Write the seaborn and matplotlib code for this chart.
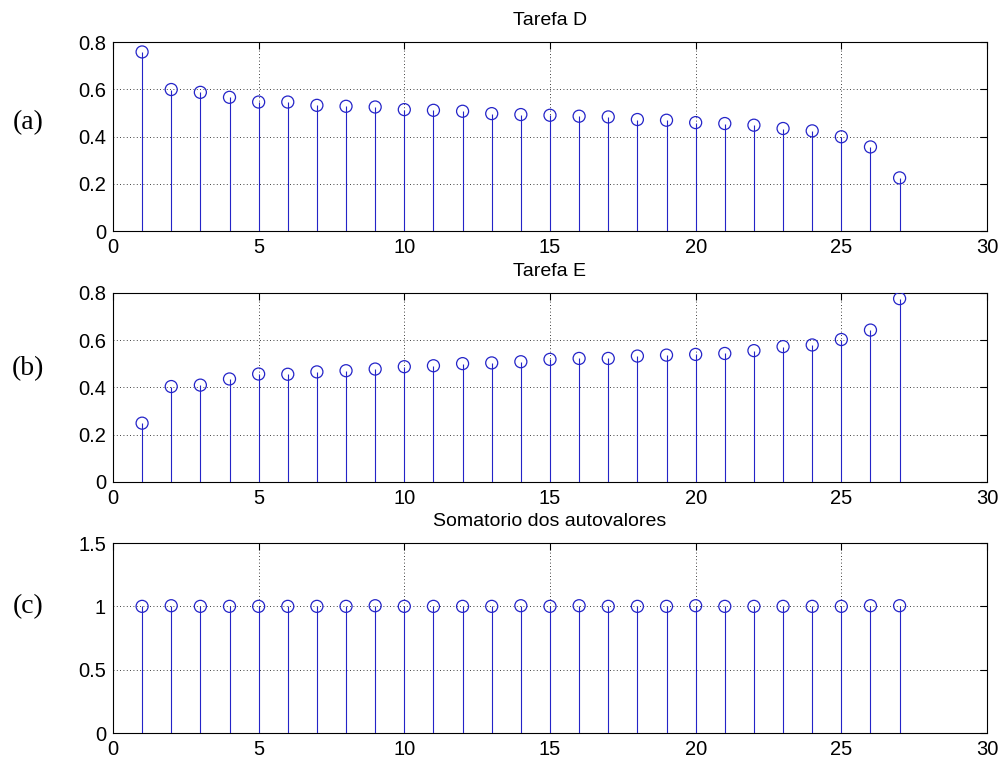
import numpy as np
import pandas as pd
import seaborn as sns
import matplotlib.pyplot as plt

idx = list(range(1, 28))

tarefa_d = [0.758, 0.599, 0.587, 0.566, 0.546, 0.546, 0.532, 0.528, 0.525,
            0.514, 0.511, 0.507, 0.497, 0.493, 0.490, 0.486, 0.483, 0.472,
            0.469, 0.459, 0.455, 0.448, 0.434, 0.424, 0.399, 0.356, 0.225]

tarefa_e = [0.249, 0.404, 0.410, 0.436, 0.457, 0.456, 0.466, 0.471, 0.478,
            0.488, 0.492, 0.501, 0.504, 0.509, 0.519, 0.523, 0.523, 0.533,
            0.537, 0.540, 0.544, 0.556, 0.573, 0.580, 0.603, 0.643, 0.776]

soma = [1.000, 1.005, 1.000, 1.000, 1.000, 1.000, 1.000, 1.000, 1.005,
        1.000, 1.000, 1.000, 1.000, 1.005, 1.000, 1.005, 1.000, 1.000,
        1.000, 1.005, 1.000, 1.000, 1.000, 1.000, 1.000, 1.005, 1.005]

titles = ['Tarefa D', 'Tarefa E', 'Somatorio dos autovalores']
panel_labels = ['(a)', '(b)', '(c)']
ylims = [(0, 0.8), (0, 0.8), (0, 1.5)]
yticks = [[0, 0.2, 0.4, 0.6, 0.8], [0, 0.2, 0.4, 0.6, 0.8], [0, 0.5, 1, 1.5]]
yticklabels = [['0', '0.2', '0.4', '0.6', '0.8'], ['0', '0.2', '0.4', '0.6', '0.8'],
               ['0', '0.5', '1', '1.5']]
xticks = [0, 5, 10, 15, 20, 25, 30]

sns.set_style('white')
plt.rcParams['font.family'] = ['Liberation Sans Narrow', 'Liberation Sans', 'DejaVu Sans']
plt.rcParams['text.color'] = 'black'

fig = plt.figure(figsize=(10.05, 7.6), dpi=100)
positions = [[0.1124, 0.696, 0.8697, 0.2487],
             [0.1124, 0.3658, 0.8697, 0.2487],
             [0.1124, 0.0355, 0.8697, 0.25]]
series = [tarefa_d, tarefa_e, soma]
label_y = [123, 369, 607]

for k in range(3):
    ax = fig.add_axes(positions[k])
    df = pd.DataFrame({'x': idx, 'y': series[k]})
    ax.vlines(df['x'], 0, df['y'], color='#2424c8', linewidth=0.8, zorder=3)
    sns.scatterplot(data=df, x='x', y='y', ax=ax, marker='o', s=75,
                    facecolors='none', edgecolor='#2424c8', linewidth=0.9,
                    zorder=4, legend=False)
    ax.set_xlim(0, 30)
    ax.set_ylim(*ylims[k])
    ax.set_xticks(xticks)
    ax.set_xticklabels([str(t) for t in xticks])
    ax.set_yticks(yticks[k])
    ax.set_yticklabels(yticklabels[k])
    ax.set_xlabel('')
    ax.set_ylabel('')
    ax.grid(True, color='black', linestyle=(0, (1, 3)), linewidth=0.6)
    ax.set_axisbelow(True)
    for sp in ax.spines.values():
        sp.set_color('black')
        sp.set_linewidth(0.8)
    ax.tick_params(direction='in', length=5, width=0.8, top=True, right=True,
                   labelsize=14.5, colors='black', pad=5)
    ax.set_title(titles[k], fontsize=14, pad=12, color='black')
    fig.text(28 / 1005, 1 - label_y[k] / 760, panel_labels[k],
             family='Liberation Serif', fontsize=20, ha='center', va='center',
             color='black')

fig.savefig('out.png', dpi=100)
